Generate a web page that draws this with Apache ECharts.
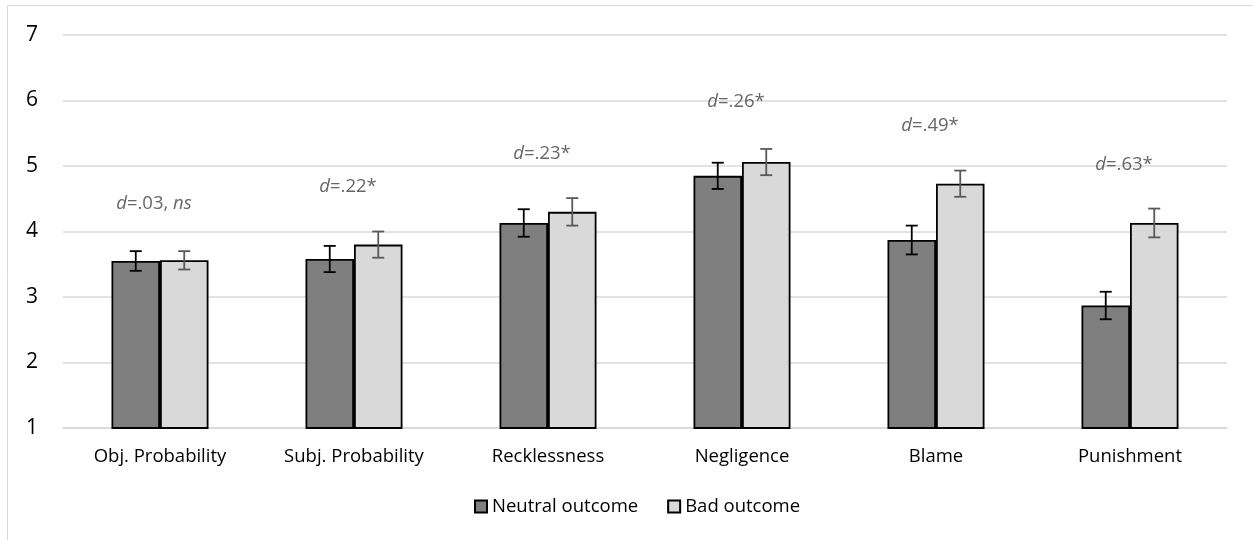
<!DOCTYPE html>
<html><head><meta charset="utf-8">
<script src="https://cdn.jsdelivr.net/npm/echarts@6/dist/echarts.min.js"></script>
<style>html,body{margin:0;padding:0;background:#fff}#c{width:1253px;height:540px}</style>
</head><body><div id="c"></div>
<script>
const categories = ['Obj. Probability','Subj. Probability','Recklessness','Negligence','Blame','Punishment'];
const neutralMean = [3.55, 3.58, 4.13, 4.85, 3.87, 2.87];
const neutralErr  = [0.15, 0.20, 0.21, 0.20, 0.22, 0.21];
const badMean     = [3.56, 3.80, 4.30, 5.06, 4.73, 4.13];
const badErr      = [0.14, 0.20, 0.21, 0.20, 0.20, 0.22];
const effectText  = ['{i|d}=.03, {i|ns}','{i|d}=.22*','{i|d}=.23*','{i|d}=.26*','{i|d}=.49*','{i|d}=.63*'];
const effectY     = [4.43, 4.68, 5.19, 5.98, 5.61, 5.02];
const yTicks = [1,2,3,4,5,6,7];

const FONT = '"Open Sans", "Noto Sans", sans-serif';
const FS = 18.5;

function errData(mean, err){ return mean.map((m,i)=>[i, m-err[i], m+err[i]]); }
function errSeries(name, mean, err, color, sign){
  return {
    type:'custom', name:name+' err', z:5, silent:true,
    data: errData(mean, err),
    encode:{x:0, y:[1,2]},
    renderItem:function(params, api){
      const i = api.value(0);
      const band = api.size([1,0])[0];
      const lo = api.coord([i, api.value(1)]);
      const hi = api.coord([i, api.value(2)]);
      const x = lo[0] + sign*band*0.125;
      const cap = 6;
      const st = {stroke:color, lineWidth:1.8};
      return {type:'group', children:[
        {type:'line', shape:{x1:x,y1:lo[1],x2:x,y2:hi[1]}, style:st},
        {type:'line', shape:{x1:x-cap,y1:lo[1],x2:x+cap,y2:lo[1]}, style:st},
        {type:'line', shape:{x1:x-cap,y1:hi[1],x2:x+cap,y2:hi[1]}, style:st}
      ]};
    }
  };
}

const chart = echarts.init(document.getElementById('c'), null, {renderer:'canvas'});
chart.setOption({
  animation:false,
  backgroundColor:'#fff',
  graphic:[{type:'rect', shape:{x:7.5,y:5.5,width:1300,height:700}, style:{fill:null, stroke:'#d9d9d9', lineWidth:1}, silent:true, z:-10}],
  grid:{left:63, right:26, top:35, bottom:112},
  legend:{
    bottom:19, left:469, itemWidth:12, itemHeight:12, itemGap:29,
    textStyle:{fontFamily:FONT, fontSize:FS, color:'#000'},
    data:[{name:'Neutral outcome', icon:'rect'},{name:'Bad outcome', icon:'rect'}]
  },
  xAxis:{
    type:'category', data:categories,
    axisLine:{show:true, lineStyle:{color:'#d9d9d9', width:1.5}},
    axisTick:{show:false},
    axisLabel:{fontFamily:FONT, fontSize:FS, color:'#000', margin:19}
  },
  yAxis:{
    type:'value', min:1, max:7, interval:1,
    axisLine:{show:false}, axisTick:{show:false},
    splitLine:{lineStyle:{color:'#d9d9d9', width:1.5}},
    axisLabel:{fontFamily:FONT, fontSize:21, color:'#000', margin:25,
      formatter:function(v){ return yTicks.indexOf(v)>=0 ? String(v) : ''; }}
  },
  series:[
    {name:'Neutral outcome', type:'bar', data:neutralMean, barGap:'0%', barCategoryGap:'50%',
      itemStyle:{color:'#7f7f7f', borderColor:'#000', borderWidth:1.8}},
    {name:'Bad outcome', type:'bar', data:badMean, barGap:'0%', barCategoryGap:'50%',
      itemStyle:{color:'#d9d9d9', borderColor:'#000', borderWidth:1.8}},
    errSeries('Neutral outcome', neutralMean, neutralErr, '#000', -1),
    errSeries('Bad outcome', badMean, badErr, '#595959', 1),
    {type:'scatter', symbolSize:0, silent:true, z:6,
      data: effectY.map((y,i)=>({value:[i,y], label:{formatter:effectText[i]}})),
      label:{show:true, position:'inside', offset:[-6,0], color:'#404040', fontFamily:FONT, fontSize:FS,
        rich:{i:{fontStyle:'italic', color:'#404040', fontFamily:FONT, fontSize:FS}}}
    }
  ]
});
</script>
</body></html>
